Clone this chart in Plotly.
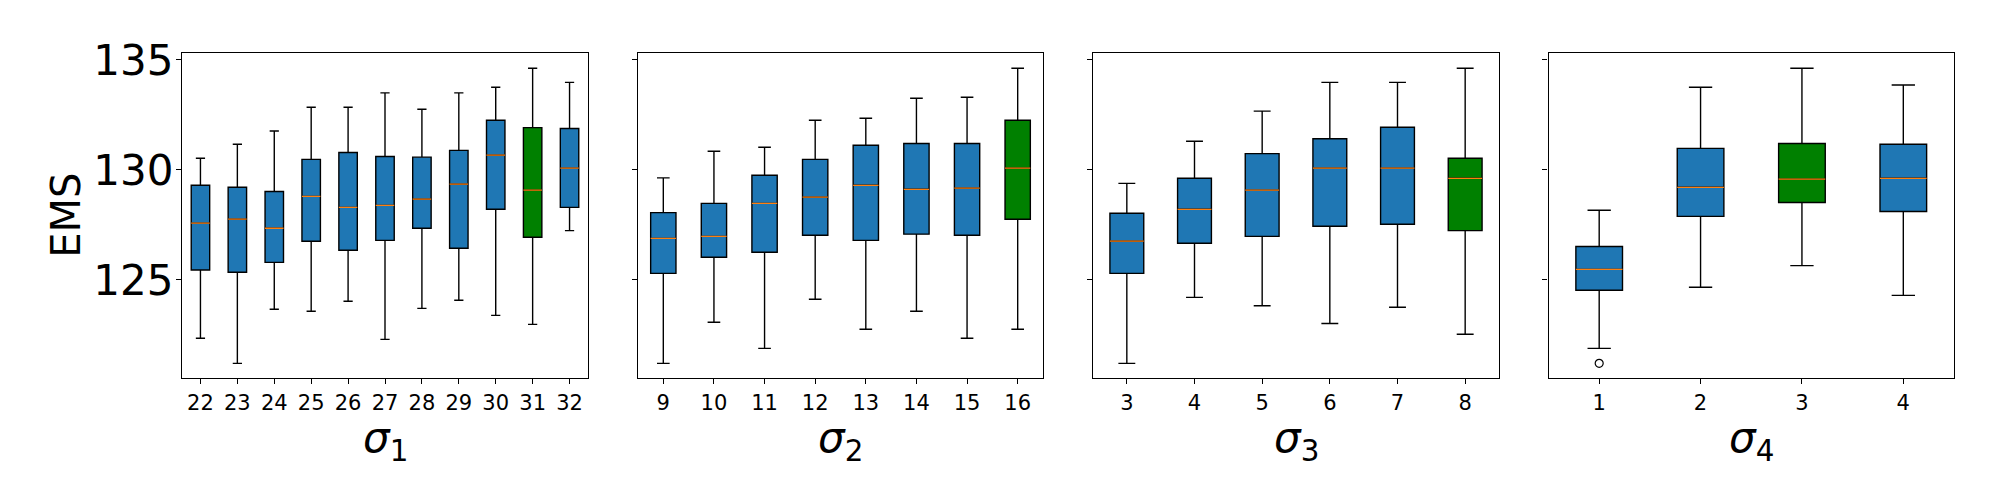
import plotly.graph_objects as go

# ---------------- data ----------------
s1_pos = [22, 23, 24, 25, 26, 27, 28, 29, 30, 31, 32]
s1_low = [122.35, 121.21, 123.67, 123.58, 124.03, 122.30, 123.71, 124.08, 123.39, 122.98, 127.24]
s1_q1 = [125.45, 125.35, 125.80, 126.76, 126.35, 126.80, 127.35, 126.44, 128.21, 126.94, 128.30]
s1_med = [127.58, 127.76, 127.35, 128.80, 128.30, 128.39, 128.67, 129.35, 130.67, 129.08, 130.08]
s1_q3 = [129.30, 129.21, 129.02, 130.48, 130.79, 130.61, 130.58, 130.89, 132.26, 131.92, 131.88]
s1_high = [130.53, 131.17, 131.77, 132.85, 132.85, 133.50, 132.76, 133.50, 133.76, 134.62, 133.98]
s1_best = 31

s2_pos = [9, 10, 11, 12, 13, 14, 15, 16]
s2_low = [121.21, 123.08, 121.89, 124.12, 122.76, 123.58, 122.35, 122.76]
s2_q1 = [125.30, 126.03, 126.26, 127.03, 126.80, 127.08, 127.03, 127.76]
s2_med = [126.89, 126.98, 128.48, 128.76, 129.30, 129.12, 129.17, 130.08]
s2_q3 = [128.06, 128.48, 129.76, 130.48, 131.12, 131.20, 131.20, 132.26]
s2_high = [129.64, 130.85, 131.03, 132.26, 132.35, 133.26, 133.30, 134.62]
s2_best = 16

s3_pos = [3, 4, 5, 6, 7, 8]
s3_low = [121.21, 124.21, 123.83, 123.02, 123.76, 122.53]
s3_q1 = [125.30, 126.67, 126.98, 127.44, 127.53, 127.24]
s3_med = [126.76, 128.21, 129.08, 130.08, 130.08, 129.62]
s3_q3 = [128.03, 129.62, 130.74, 131.42, 131.94, 130.53]
s3_high = [129.39, 131.30, 132.67, 133.98, 133.98, 134.62]
s3_best = 8

s4_pos = [1, 2, 3, 4]
s4_low = [121.89, 124.67, 125.65, 124.30]
s4_q1 = [124.53, 127.89, 128.52, 128.11]
s4_med = [125.48, 129.21, 129.58, 129.62]
s4_q3 = [126.52, 130.98, 131.20, 131.17]
s4_high = [128.17, 133.76, 134.62, 133.86]
s4_best = 3
s4_outlier_pos = [1]
s4_outlier_val = [121.21]

y_ticks = [125, 130, 135]
y_title = "EMS"
x_titles = ["<i>σ</i><sub>1</sub>", "<i>σ</i><sub>2</sub>", "<i>σ</i><sub>3</sub>", "<i>σ</i><sub>4</sub>"]

# ---------------- styling ----------------
BLUE = "#1f77b4"
GREEN = "#008000"
ORANGE = "#ff7f0e"
FONT = "DejaVu Sans"

W, H = 2000, 500
OFF = 8  # page body margin of the html page
x_domains_px = [(182 - OFF, 588 - OFF), (638 - OFF, 1043 - OFF),
                (1093 - OFF, 1499 - OFF), (1548.5 - OFF, 1954 - OFF)]
y_top_px, y_bot_px = 53.3 - OFF, 378.3 - OFF
y_domain = [1 - y_bot_px / H, 1 - y_top_px / H]
y_range = [120.53, 135.30]
x_title_center_px = 440 - OFF

panels = [
    (s1_pos, s1_low, s1_q1, s1_med, s1_q3, s1_high, s1_best, 0.5),
    (s2_pos, s2_low, s2_q1, s2_med, s2_q3, s2_high, s2_best, 0.5),
    (s3_pos, s3_low, s3_q1, s3_med, s3_q3, s3_high, s3_best, 0.5),
    (s4_pos, s4_low, s4_q1, s4_med, s4_q3, s4_high, s4_best, 0.46),
]

fig = go.Figure()

for i, (pos, low, q1, med, q3, high, best, bw) in enumerate(panels):
    xa = "x" if i == 0 else f"x{i+1}"
    ya = "y" if i == 0 else f"y{i+1}"
    for p, lo, a, m, b, hi in zip(pos, low, q1, med, q3, high):
        fig.add_trace(go.Box(
            x=[p], q1=[a], median=[m], q3=[b], lowerfence=[lo], upperfence=[hi],
            width=bw, whiskerwidth=0.5,
            fillcolor=GREEN if p == best else BLUE,
            line=dict(color="black", width=1.4),
            xaxis=xa, yaxis=ya, hoverinfo="skip", showlegend=False,
        ))
        # orange median line drawn as a collapsed box
        fig.add_trace(go.Box(
            x=[p], q1=[m], median=[m], q3=[m], lowerfence=[m], upperfence=[m],
            width=bw, whiskerwidth=0,
            fillcolor="rgba(0,0,0,0)",
            line=dict(color=ORANGE, width=1.3),
            xaxis=xa, yaxis=ya, hoverinfo="skip", showlegend=False,
        ))

fig.add_trace(go.Scatter(
    x=s4_outlier_pos, y=s4_outlier_val, mode="markers",
    marker=dict(symbol="circle-open", size=8, color="black", line=dict(width=1.2)),
    xaxis="x4", yaxis="y4", hoverinfo="skip", showlegend=False,
))

layout = dict(
    width=W, height=H,
    margin=dict(l=0, r=0, t=0, b=0, autoexpand=False),
    paper_bgcolor="white", plot_bgcolor="white",
    font=dict(family=FONT, color="black"),
    showlegend=False,
    boxmode="overlay",
)

for i, (pos, *_rest) in enumerate(panels):
    xk = "xaxis" if i == 0 else f"xaxis{i+1}"
    yk = "yaxis" if i == 0 else f"yaxis{i+1}"
    ya = "y" if i == 0 else f"y{i+1}"
    xa = "x" if i == 0 else f"x{i+1}"
    d0, d1 = x_domains_px[i]
    layout[xk] = dict(
        domain=[d0 / W, d1 / W], anchor=ya, automargin=False,
        range=[pos[0] - 0.5, pos[-1] + 0.5],
        tickmode="array", tickvals=pos, ticktext=[str(p) for p in pos],
        tickfont=dict(size=21, family=FONT),
        ticks="outside", ticklen=5, tickwidth=1, tickcolor="black",
        showline=True, linecolor="black", linewidth=1.2, mirror=True,
        showgrid=False, zeroline=False,
    )
    layout[yk] = dict(
        domain=y_domain, anchor=xa, automargin=False,
        range=y_range,
        tickmode="array", tickvals=y_ticks,
        showticklabels=(i == 0),
        tickfont=dict(size=42, family=FONT),
        ticklabelstandoff=-6,
        ticks="outside", ticklen=5, tickwidth=1, tickcolor="black",
        showline=True, linecolor="black", linewidth=1.2, mirror=True,
        showgrid=False, zeroline=False,
    )

fig.update_layout(**layout)

# x-axis titles as annotations centred under each panel
for i, (d0, d1) in enumerate(x_domains_px):
    fig.add_annotation(
        text=x_titles[i], showarrow=False,
        xref="paper", yref="paper",
        x=(d0 + d1) / 2 / W, y=1 - x_title_center_px / H,
        xanchor="center", yanchor="middle",
        font=dict(size=42, family=FONT, color="black"),
    )

# y-axis title placed as an annotation (centred at x≈66 px of the page)
fig.add_annotation(
    text=y_title, textangle=-90, showarrow=False,
    xref="paper", yref="paper",
    x=(66 - OFF) / W, y=(y_domain[0] + y_domain[1]) / 2,
    xanchor="center", yanchor="middle",
    font=dict(size=40, family=FONT, color="black"),
)

fig.write_html("out.html")
